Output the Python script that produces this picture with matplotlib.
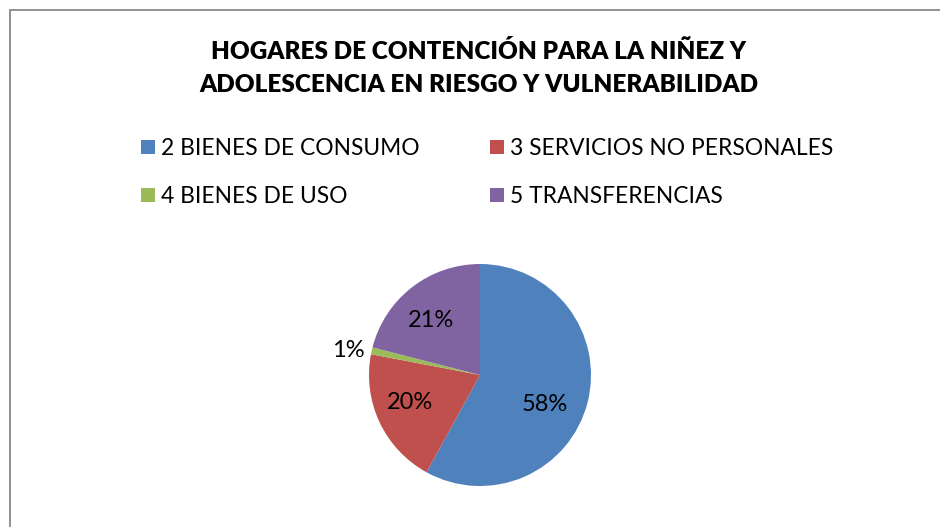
import matplotlib
matplotlib.use("Agg")
import matplotlib.pyplot as plt
from matplotlib.patches import Rectangle
import numpy as np

title_lines = ["HOGARES DE CONTENCIÓN PARA LA NIÑEZ Y",
               "ADOLESCENCIA EN RIESGO Y VULNERABILIDAD"]
categories = ["2 BIENES DE CONSUMO", "3 SERVICIOS NO PERSONALES",
              "4 BIENES DE USO", "5 TRANSFERENCIAS"]
values = [58, 20, 1, 21]
colors = ["#4F81BD", "#C0504D", "#9BBB59", "#8064A2"]

FONT = "Lato"
W, H = 940, 527
fig = plt.figure(figsize=(W / 100, H / 100), dpi=100)
fig.patch.set_facecolor("white")

# chart border (extends beyond the image at right/bottom)
fig.patches.append(Rectangle((10 / W, -0.1), 2.0, 1 - 10 / H + 0.1,
                             transform=fig.transFigure, fill=False,
                             edgecolor="#888888", linewidth=1.3))

# title
fig.text(479 / W, 1 - 59 / H, title_lines[0], ha="center", va="baseline",
         fontsize=17.5, fontweight="heavy", family=FONT)
fig.text(479 / W, 1 - 92 / H, title_lines[1], ha="center", va="baseline",
         fontsize=17.5, fontweight="heavy", family=FONT)

# pie
cx, cy, r = 480, 375, 111
ax = fig.add_axes([(cx - r) / W, (H - cy - r) / H, 2 * r / W, 2 * r / H])
wedges, texts, autotexts = ax.pie(values, colors=colors, startangle=90,
                                  counterclock=False, radius=1,
                                  autopct=lambda p: f"{p:.0f}%",
                                  pctdistance=0.65,
                                  wedgeprops=dict(linewidth=0),
                                  textprops=dict(fontsize=17, family=FONT,
                                                 color="black"))
ax.set_xlim(-1, 1)
ax.set_ylim(-1, 1)
ax.set_aspect("equal")

# label placement (radius, angle in degrees) for each slice label
label_pos = [(0.645, -24.7), (0.68, -158.4), (1.21, 169.7), (0.66, 132.0)]
for t, (rr, ang) in zip(autotexts, label_pos):
    a = np.deg2rad(ang)
    t.set_position((rr * np.cos(a), rr * np.sin(a)))
    t.set_ha("center")
    t.set_va("center")

# legend: two columns placed separately
leg_kw = dict(frameon=False, handlelength=0.61, handleheight=0.61,
              handletextpad=0.27, labelspacing=1.18, borderpad=0,
              borderaxespad=0, loc="upper left",
              prop=dict(family=FONT, size=16.4))
leg1 = fig.legend([wedges[0], wedges[2]], [categories[0], categories[2]],
                  bbox_to_anchor=(141 / W, 1 - 138 / H), **leg_kw)
leg2 = fig.legend([wedges[1], wedges[3]], [categories[1], categories[3]],
                  bbox_to_anchor=(490 / W, 1 - 138 / H), **leg_kw)

fig.savefig("out.png", dpi=100, facecolor="white")
